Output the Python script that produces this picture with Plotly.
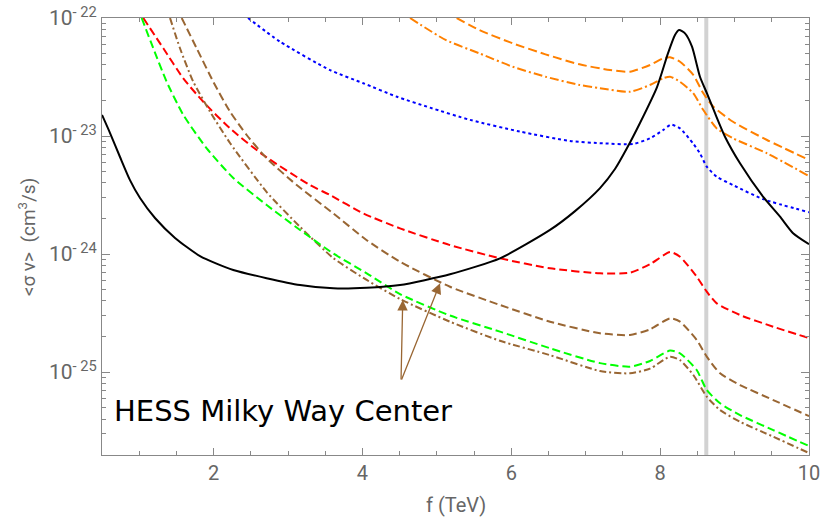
import numpy as np
import plotly.graph_objects as go

# ---------------- data ----------------
f_black = [0.5, 0.608, 0.742, 0.876, 1.011, 1.212, 1.481, 1.817, 2.264, 3.161, 3.608, 4.057,
           4.504, 5.176, 5.848, 6.520, 6.856, 7.192, 7.393, 7.555, 7.729, 7.958, 8.105, 8.199,
           8.254, 8.334, 8.428, 8.535, 8.629, 8.737, 8.871, 9.073, 9.382, 9.611, 9.786, 10.0]
sv_black = [1.51e-23, 1.06e-23, 6.64e-24, 4.23e-24, 2.98e-24, 2.02e-24, 1.37e-24, 9.61e-25,
            7.32e-25, 5.46e-25, 5.12e-25, 5.17e-25, 5.46e-25, 6.73e-25, 9.20e-25, 1.60e-24,
            2.31e-24, 3.62e-24, 5.25e-24, 7.91e-24, 1.29e-23, 2.60e-23, 5.02e-23, 7.17e-23,
            7.91e-23, 7.41e-23, 5.71e-23, 3.18e-23, 2.30e-23, 1.56e-23, 9.86e-24, 5.87e-24,
            3.06e-24, 2.07e-24, 1.50e-24, 1.21e-24]

f_blue = [2.462, 2.892, 3.564, 4.011, 4.464, 4.907, 5.445, 6.117, 6.789, 7.232, 7.635, 7.864,
          8.038, 8.146, 8.267, 8.441, 8.535, 8.626, 8.760, 8.979, 9.382, 10.0]
sv_blue = [1.00e-22, 6.30e-23, 3.62e-23, 2.80e-23, 2.15e-23, 1.74e-23, 1.37e-23, 1.09e-23,
           9.08e-24, 8.67e-24, 8.55e-24, 9.57e-24, 1.12e-23, 1.25e-23, 1.16e-23, 8.67e-24,
           7.13e-24, 5.50e-24, 4.52e-24, 3.84e-24, 2.92e-24, 2.26e-24]

f_orange_dash = [5.266, 5.570, 6.016, 6.459, 6.916, 7.326, 7.595, 7.864, 8.038, 8.133, 8.267,
                 8.446, 8.580, 8.715, 8.979, 9.436, 10.0]
sv_orange_dash = [1.00e-22, 7.91e-23, 6.11e-23, 4.92e-23, 4.05e-23, 3.62e-23, 3.51e-23, 4.00e-23,
                  4.55e-23, 4.65e-23, 4.26e-23, 3.29e-23, 2.30e-23, 1.77e-23, 1.32e-23, 9.25e-24,
                  6.27e-24]

f_orange_dd = [4.639, 5.117, 5.570, 6.016, 6.459, 6.916, 7.192, 7.595, 7.864, 8.038, 8.133,
               8.267, 8.446, 8.580, 8.760, 8.979, 9.436, 10.0]
sv_orange_dd = [1.00e-22, 6.52e-23, 5.02e-23, 3.87e-23, 3.18e-23, 2.71e-23, 2.54e-23, 2.37e-23,
                2.71e-23, 3.08e-23, 3.18e-23, 2.88e-23, 2.30e-23, 1.66e-23, 1.16e-23, 9.57e-24,
                7.13e-24, 4.58e-24]

f_red = [1.055, 1.324, 1.592, 1.861, 2.220, 2.667, 3.295, 3.564, 4.011, 4.504, 5.176, 5.848,
         6.520, 7.192, 7.595, 7.864, 8.133, 8.267, 8.491, 8.626, 8.760, 9.073, 9.520, 10.0]
sv_red = [1.00e-22, 5.54e-23, 3.08e-23, 1.95e-23, 1.16e-23, 6.90e-24, 3.84e-24, 3.16e-24,
          2.21e-24, 1.65e-24, 1.19e-24, 9.20e-25, 7.57e-25, 6.86e-25, 6.95e-25, 8.20e-25,
          1.04e-24, 9.48e-25, 6.43e-25, 4.80e-25, 3.82e-25, 3.04e-25, 2.42e-25, 1.94e-25]

f_brown_dash = [1.571, 1.772, 1.996, 2.220, 2.444, 2.713, 3.116, 3.608, 4.057, 4.504, 5.176,
                5.848, 6.520, 7.192, 7.595, 7.864, 8.133, 8.267, 8.491, 8.626, 8.805, 9.073,
                9.520, 10.0]
sv_brown_dash = [1.00e-22, 5.54e-23, 2.88e-23, 1.61e-23, 1.02e-23, 6.47e-24, 3.84e-24, 2.21e-24,
                 1.31e-24, 8.61e-25, 5.28e-25, 3.70e-25, 2.67e-25, 2.13e-25, 2.06e-25, 2.30e-25,
                 2.85e-25, 2.67e-25, 1.87e-25, 1.35e-25, 9.75e-26, 7.76e-26, 5.79e-26, 4.23e-26]

f_brown_dd = [1.414, 1.548, 1.727, 1.951, 2.220, 2.713, 3.161, 3.608, 4.057, 4.504, 5.176,
              5.848, 6.520, 7.192, 7.595, 7.864, 8.133, 8.267, 8.446, 8.626, 8.805, 9.073,
              9.520, 10.0]
sv_brown_dd = [1.00e-22, 5.54e-23, 2.88e-23, 1.61e-23, 8.73e-24, 3.35e-24, 1.70e-24, 9.24e-25,
               6.03e-25, 4.16e-25, 2.67e-25, 1.84e-25, 1.39e-25, 1.02e-25, 9.75e-26, 1.07e-25,
               1.35e-25, 1.26e-25, 9.44e-26, 6.18e-26, 4.76e-26, 3.79e-26, 2.83e-26, 2.06e-26]

f_green = [1.033, 1.189, 1.369, 1.592, 1.907, 2.264, 2.713, 3.161, 3.608, 4.057, 4.504, 5.176,
           5.848, 6.520, 7.192, 7.595, 7.864, 8.133, 8.267, 8.491, 8.626, 8.805, 9.073, 9.520,
           10.0]
sv_green = [1.00e-22, 5.54e-23, 2.88e-23, 1.51e-23, 7.87e-24, 4.41e-24, 2.60e-24, 1.60e-24,
            1.01e-24, 6.86e-25, 4.58e-25, 3.01e-25, 2.20e-25, 1.59e-25, 1.19e-25, 1.11e-25,
            1.24e-25, 1.52e-25, 1.44e-25, 1.04e-25, 7.04e-26, 5.43e-26, 4.32e-26, 3.22e-26,
            2.36e-26]

f_band = 8.62                       # vertical grey line
x_ticks = [2, 4, 6, 8, 10]
y_ticks = [1e-25, 1e-24, 1e-23, 1e-22]
y_ticktext = ["10<sup>- 25</sup>", "10<sup>- 24</sup>", "10<sup>- 23</sup>", "10<sup>- 22</sup>"]

label_text = "HESS Milky Way Center"
x_title = "f (TeV)"
y_title = "&lt;σ v&gt;  (cm<sup>3</sup>/s)"
arrow_origin = (4.518, 8.39e-26)
arrow_tips = [(4.541, 4.07e-25), (5.042, 5.65e-25)]

# ---------------- figure ----------------
BROWN = "rgb(153,102,51)"
ORANGE = "rgb(255,128,0)"
series = [
    (f_blue, sv_blue, "rgb(0,0,255)", "3px,3px"),
    (f_orange_dash, sv_orange_dash, ORANGE, "9px,4px"),
    (f_orange_dd, sv_orange_dd, ORANGE, "9px,3px,2px,3px"),
    (f_red, sv_red, "rgb(255,0,0)", "8px,4px"),
    (f_brown_dash, sv_brown_dash, BROWN, "8px,4px"),
    (f_brown_dd, sv_brown_dd, BROWN, "7px,3px,2px,3px"),
    (f_green, sv_green, "rgb(0,255,0)", "8px,4px"),
    (f_black, sv_black, "black", "solid"),
]

fig = go.Figure()
for fx, sv, col, dash in series:
    fig.add_trace(go.Scatter(
        x=fx, y=sv, mode="lines", showlegend=False, hoverinfo="skip",
        line=dict(color=col, dash=dash, width=2, shape="spline", smoothing=0.6)))

fig.add_shape(type="line", x0=f_band, x1=f_band, y0=0, y1=1, xref="x", yref="paper",
              line=dict(color="rgb(210,210,210)", width=4), layer="below")

for tx, ty in arrow_tips:
    fig.add_annotation(x=tx, y=np.log10(ty), ax=arrow_origin[0], ay=np.log10(arrow_origin[1]),
                       axref="x", ayref="y", xref="x", yref="y", text="", showarrow=True,
                       arrowhead=2, arrowsize=1.6, arrowwidth=1.3, arrowcolor=BROWN)

fig.add_annotation(x=0.014, y=0.10, xref="paper", yref="paper", xanchor="left", yanchor="middle",
                   text=label_text, showarrow=False,
                   font=dict(family="DejaVu Sans", size=29, color="black"))

AX = "#888888"
TXT = "#666666"
FONT = "Roboto"

# axis titles as annotations for exact placement
fig.add_annotation(x=-0.105, y=0.50, xref="paper", yref="paper", xanchor="center",
                   yanchor="middle", textangle=-90, text=y_title, showarrow=False,
                   font=dict(family=FONT, size=19, color=TXT))
fig.add_annotation(x=0.50, y=-0.115, xref="paper", yref="paper", xanchor="center",
                   yanchor="middle", text=x_title, showarrow=False,
                   font=dict(family=FONT, size=20, color=TXT))

x_minor = [v for v in np.arange(0.5, 10.01, 0.5) if v not in x_ticks]
y_minor = [m * 10.0 ** e for e in range(-26, -22) for m in range(2, 10)]

fig.update_xaxes(range=[0.5, 10], tickvals=x_ticks, ticks="inside", ticklen=7, tickcolor=AX,
                 showline=True, linecolor=AX, linewidth=1, mirror="ticks", showgrid=False,
                 zeroline=False, automargin=False,
                 minor=dict(tickvals=x_minor, ticks="inside", ticklen=4, tickcolor=AX),
                 tickfont=dict(family=FONT, size=20, color=TXT))
fig.update_yaxes(type="log", range=[-25.703, -22], tickvals=y_ticks, ticktext=y_ticktext,
                 ticks="inside", ticklen=8, tickcolor=AX, showline=True, linecolor=AX, linewidth=1,
                 mirror="ticks", showgrid=False, zeroline=False, automargin=False,
                 minor=dict(tickvals=y_minor, ticks="inside", ticklen=4, tickcolor=AX),
                 tickfont=dict(family=FONT, size=21, color=TXT))

fig.update_layout(width=825, height=519, margin=dict(l=102, r=16, t=18, b=64),
                  plot_bgcolor="white", paper_bgcolor="white")

fig.write_html("out.html")
